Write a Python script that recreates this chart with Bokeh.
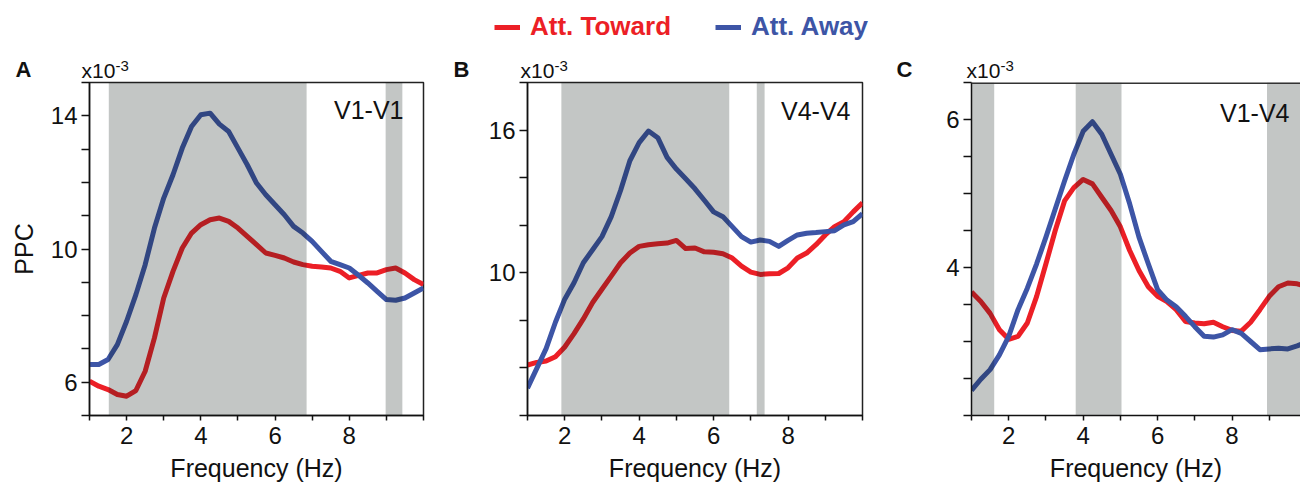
from bokeh.plotting import figure
from bokeh.models import FixedTicker, Label, Legend, LegendItem, Range1d, Span
from bokeh.layouts import row, column
from bokeh.core.properties import value
from bokeh.embed import file_html
from bokeh.resources import INLINE

FONT = "Liberation Sans"
RED = "#ec1f26"
BLUE = "#3d55a6"
INK = "#111111"
SHADE_COLOR = "#0f1b17"
SHADE_ALPHA = 0.25

series_names = ["Att. Toward", "Att. Away"]
panel_letters = ["A", "B", "C"]
region_names = ["V1-V1", "V4-V4", "V1-V4"]

# ---- Panel A (V1-V1) ----
freq_a = [1, 1.25, 1.5, 1.75, 2, 2.25, 2.5, 2.75, 3, 3.25, 3.5, 3.75, 4, 4.25, 4.5, 4.75,
          5, 5.25, 5.5, 5.75, 6, 6.25, 6.5, 6.75, 7, 7.25, 7.5, 7.75, 8, 8.25, 8.5, 8.75,
          9, 9.25, 9.5, 9.75, 10]
toward_a = [6.03, 5.88, 5.78, 5.63, 5.58, 5.75, 6.33, 7.33, 8.53, 9.33, 10.03, 10.48, 10.73,
            10.88, 10.93, 10.83, 10.63, 10.38, 10.13, 9.88, 9.81, 9.73, 9.61, 9.53, 9.48,
            9.46, 9.43, 9.33, 9.13, 9.21, 9.28, 9.28, 9.38, 9.43, 9.28, 9.08, 8.93]
away_a = [6.53, 6.53, 6.68, 7.13, 7.83, 8.63, 9.53, 10.63, 11.53, 12.23, 13.03, 13.68, 14.03,
          14.08, 13.75, 13.53, 13.03, 12.53, 11.98, 11.63, 11.33, 11.03, 10.68, 10.48, 10.23,
          9.93, 9.63, 9.53, 9.43, 9.21, 8.98, 8.73, 8.48, 8.46, 8.53, 8.68, 8.83]
shade_left_a = [1.52, 8.98]
shade_right_a = [6.85, 9.43]
yticks_a = [6, 10, 14]
yminor_a = [5, 7, 8, 9, 11, 12, 13, 15]

# ---- Panel B (V4-V4) ----
freq_b = freq_a
toward_b = [6.12, 6.23, 6.29, 6.47, 6.88, 7.44, 8.06, 8.75, 9.31, 9.86, 10.42, 10.83, 11.11,
            11.18, 11.22, 11.25, 11.36, 11.02, 11.04, 10.88, 10.86, 10.80, 10.62, 10.28, 10.03,
            9.93, 9.96, 9.97, 10.21, 10.62, 10.83, 11.18, 11.59, 11.94, 12.15, 12.56, 12.94]
away_b = [5.15, 5.98, 6.81, 7.92, 8.89, 9.58, 10.42, 10.97, 11.52, 12.36, 13.46, 14.71, 15.47,
          15.96, 15.68, 14.85, 14.36, 13.95, 13.53, 13.05, 12.56, 12.36, 11.94, 11.52, 11.29,
          11.38, 11.32, 11.11, 11.36, 11.59, 11.66, 11.69, 11.73, 11.77, 12.01, 12.15, 12.49]
shade_left_b = [1.91, 7.16]
shade_right_b = [6.42, 7.37]
yticks_b = [10, 16]
yminor_b = [4, 6, 8, 12, 14, 18]

# ---- Panel C (V1-V4) ----
freq_c = freq_a
toward_c = [3.67, 3.54, 3.38, 3.16, 3.03, 3.07, 3.25, 3.61, 4.05, 4.50, 4.90, 5.08, 5.19,
            5.13, 4.95, 4.77, 4.55, 4.23, 3.96, 3.74, 3.61, 3.54, 3.43, 3.27, 3.25, 3.24,
            3.26, 3.20, 3.15, 3.14, 3.26, 3.43, 3.61, 3.74, 3.79, 3.78, 3.74]
away_c = [2.34, 2.49, 2.62, 2.82, 3.07, 3.43, 3.72, 4.05, 4.41, 4.79, 5.17, 5.53, 5.84,
          5.97, 5.80, 5.53, 5.26, 4.86, 4.41, 4.05, 3.70, 3.56, 3.47, 3.34, 3.20, 3.07,
          3.06, 3.09, 3.16, 3.11, 3.00, 2.89, 2.90, 2.91, 2.90, 2.94, 2.99]
shade_left_c = [1.0, 3.80, 8.94]
shade_right_c = [1.61, 5.03, 10.0]
yticks_c = [4, 6]
yminor_c = [2, 2.5, 3, 3.5, 4.5, 5, 5.5, 6.5]

xticks = [2, 4, 6, 8]
xminor = [1, 3, 5, 7, 9, 10]

# ---- layout (page pixels) ----
TOP_H = 81          # header strip: legend, panel letters, x10^-3
FRAME_TOP = 82
FRAME_H = 333
PAGE_H = 486
PANEL_H = PAGE_H - TOP_H


def make_panel(fig_left, frame_left, frame_w, fig_w, xr, yr, freq, toward, away,
               sl, sr, yt, ym, region, region_right, region_mid, ylabel=None,
               boxed=True):
    p = figure(x_range=Range1d(*xr), y_range=Range1d(*yr),
               frame_width=frame_w, frame_height=FRAME_H,
               min_border_left=frame_left - fig_left,
               min_border_right=fig_w - (frame_left - fig_left) - frame_w,
               min_border_top=FRAME_TOP - TOP_H,
               min_border_bottom=PANEL_H - (FRAME_TOP - TOP_H) - FRAME_H,
               output_backend="svg", toolbar_location=None)
    p.xgrid.visible = False
    p.ygrid.visible = False
    p.background_fill_color = "white"
    p.border_fill_color = "white"
    if boxed:
        p.outline_line_color = "#222222"
        p.outline_line_width = 1.5
        p.outline_line_alpha = 1
    else:
        p.outline_line_color = None
        p.add_layout(Span(location=yr[1], dimension="width", line_color="#333333",
                          line_width=3))

    ys = yr[1] - yr[0]

    def dy(py):
        return yr[1] - (py - FRAME_TOP) / FRAME_H * ys

    xs = xr[1] - xr[0]

    def dx(px):
        return xr[0] + (px - frame_left) / frame_w * xs

    r_t = p.line(freq, toward, line_color=RED, line_width=5, line_join="round")
    r_a = p.line(freq, away, line_color=BLUE, line_width=5, line_join="round")
    p.quad(left=sl, right=sr, bottom=[yr[0]] * len(sl), top=[yr[1]] * len(sl),
           fill_color=SHADE_COLOR, fill_alpha=SHADE_ALPHA, line_color=None)

    xa = p.below[0]
    ya = p.left[0]
    xa.ticker = FixedTicker(ticks=xticks, minor_ticks=xminor)
    xa.axis_label = "Frequency (Hz)"
    ya.ticker = FixedTicker(ticks=yt, minor_ticks=ym)
    if ylabel:
        ya.axis_label = ylabel
    for ax in (xa, ya):
        ax.axis_line_width = 1.5
        ax.axis_line_color = INK
        ax.major_tick_line_width = 1.5
        ax.minor_tick_line_width = 1.5
        ax.major_tick_line_color = INK
        ax.minor_tick_line_color = INK
        ax.major_tick_in = 0
        ax.minor_tick_in = 0
        ax.major_label_text_font = FONT
        ax.major_label_text_font_size = "24px"
        ax.major_label_text_color = INK
        ax.axis_label_text_font = FONT
        ax.axis_label_text_font_size = "25px"
        ax.axis_label_text_font_style = "normal"
        ax.axis_label_text_color = INK
    xa.major_tick_out = 5
    xa.minor_tick_out = 5
    xa.major_label_standoff = 6
    xa.axis_label_standoff = 7
    ya.major_tick_out = 8
    ya.minor_tick_out = 8
    ya.major_label_standoff = 4
    ya.axis_label_standoff = 10

    p.add_layout(Label(x=dx(region_right), y=dy(region_mid), text=region,
                       text_font=FONT, text_font_size="25px", text_color=INK,
                       text_align="right", text_baseline="middle"))
    return p, r_t, r_a


pa, ta, aa = make_panel(0, 89, 334, 440, (1, 10), (5, 15), freq_a, toward_a, away_a,
                        shade_left_a, shade_right_a, yticks_a, yminor_a,
                        region_names[0], 403, 109, ylabel="PPC")
pb, tb, ab = make_panel(440, 527, 335, 440, (1, 10), (4, 18), freq_b, toward_b, away_b,
                        shade_left_b, shade_right_b, yticks_b, yminor_b,
                        region_names[1], 850, 110)
pc, tc, ac = make_panel(880, 971, 329, 420, (1, 9.84), (2, 6.5), freq_c, toward_c, away_c,
                        shade_left_c, shade_right_c, yticks_c, yminor_c,
                        region_names[2], 1289, 112, boxed=False)

# ---- header strip (page-pixel coordinates, y downward) ----
top = figure(width=1300, height=TOP_H, x_range=Range1d(0, 1300), y_range=Range1d(TOP_H, 0),
             min_border=0, x_axis_type=None, y_axis_type=None,
             output_backend="svg", toolbar_location=None)
top.outline_line_color = None
top.background_fill_color = "white"
top.border_fill_color = "white"
top.extra_y_ranges = {"offscreen": Range1d(1000, 1001)}

letter_x = [15, 453, 896]
mult_x = [81, 520, 966]
top.text(x=letter_x, y=[68.5] * 3, text=panel_letters, text_font=value(FONT),
         text_font_size="22px", text_font_style="bold", text_color=INK,
         text_baseline="middle")
top.text(x=mult_x, y=[69.5] * 3, text=["x10"] * 3, text_font=value(FONT),
         text_font_size="21px", text_color=INK, text_baseline="middle")
top.text(x=[m + 34 for m in mult_x], y=[65] * 3, text=["-3"] * 3, text_font=value(FONT),
         text_font_size="15px", text_color=INK, text_baseline="middle")

# legend swatches: the panel-B series drawn on an off-screen range of the header
leg_t = top.line(freq_b, toward_b, line_color=RED, line_width=5, y_range_name="offscreen")
leg_a = top.line(freq_b, away_b, line_color=BLUE, line_width=5, y_range_name="offscreen")
LEG_H = 30
for item_r, name, col, left_px in [(leg_t, series_names[0], RED, 494),
                                   (leg_a, series_names[1], BLUE, 715)]:
    leg = Legend(items=[LegendItem(label=name, renderers=[item_r])],
                 location=(left_px, TOP_H - 12 - LEG_H),
                 orientation="horizontal", glyph_width=26, glyph_height=LEG_H,
                 label_standoff=10, padding=0, margin=0, spacing=0,
                 border_line_color=None, background_fill_alpha=0,
                 label_text_font=FONT, label_text_font_size="26px",
                 label_text_font_style="bold", label_text_color=col,
                 label_height=LEG_H)
    top.add_layout(leg, "center")

layout = column(top, row(pa, pb, pc, spacing=0), spacing=0)
open("out.html", "w").write(file_html(layout, INLINE))
